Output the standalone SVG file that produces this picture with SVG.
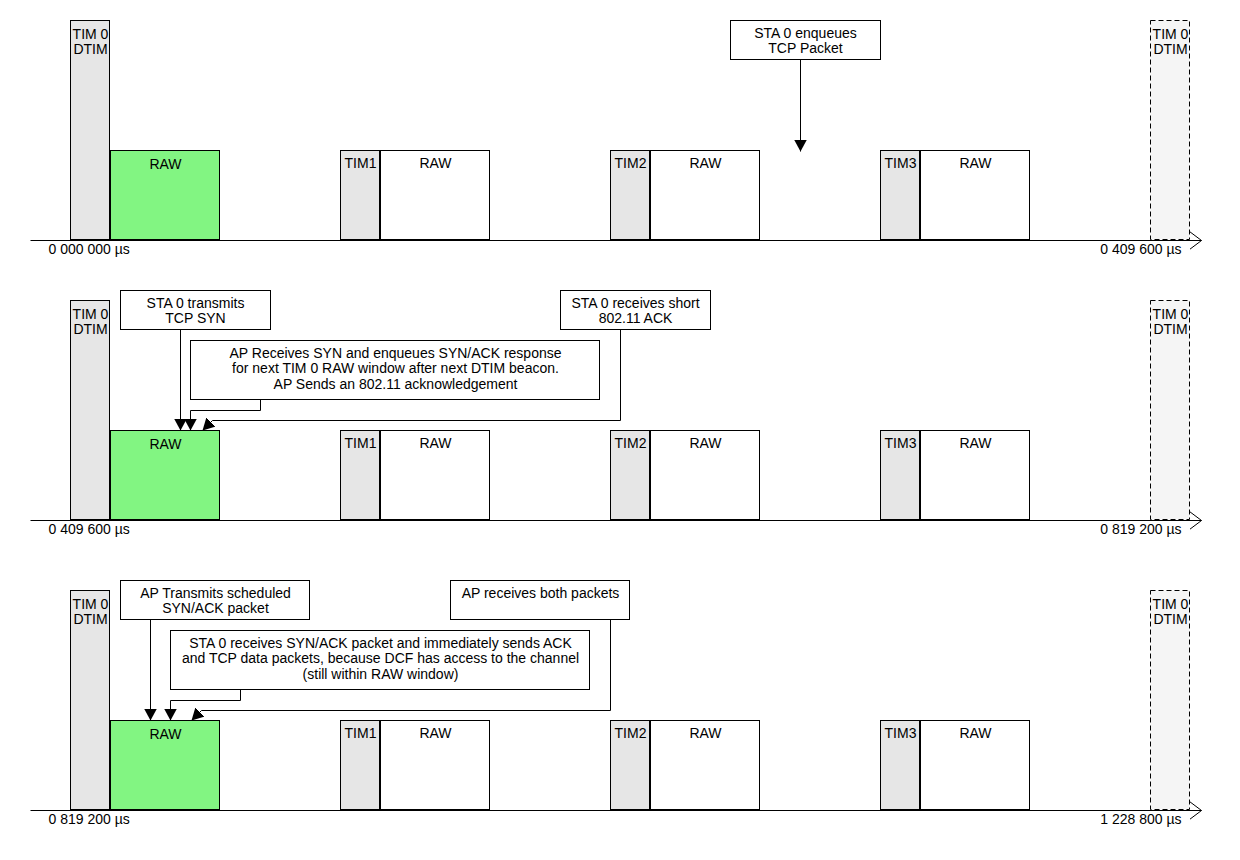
<svg xmlns="http://www.w3.org/2000/svg" width="1240" height="860" viewBox="0 0 1240 860">
<style>
  text { font-family: "Liberation Sans", Arial, sans-serif; font-size: 14px; fill: #000; }
  .c { text-anchor: middle; }
  .e { text-anchor: end; }
  .tim { fill: #e6e6e6; stroke: #000; stroke-width: 1; }
  .raw0 { fill: #82f582; stroke: #000; stroke-width: 1; }
  .raw { fill: #fff; stroke: #000; stroke-width: 1; }
  .ghost { fill: #f5f5f5; stroke: #000; stroke-width: 1; stroke-dasharray: 5 3; }
  .note { fill: #fff; stroke: #000; stroke-width: 1; }
  .axis { fill: none; stroke: #000; stroke-width: 1; marker-end: url(#open); }
  .link { fill: none; stroke: #000; stroke-width: 1; marker-end: url(#solid); }
</style>
<defs>
  <marker id="solid" markerUnits="userSpaceOnUse" viewBox="0 0 12 13" refX="12" refY="6.5" markerWidth="12" markerHeight="13" orient="auto">
    <path d="M0,0 L12,6.5 L0,13 z" fill="#000"/>
  </marker>
  <marker id="open" markerUnits="userSpaceOnUse" viewBox="0 0 14 20" refX="12" refY="10" markerWidth="14" markerHeight="20" orient="auto">
    <path d="M0,1 L12,10 L0,19" fill="none" stroke="#000" stroke-width="1"/>
  </marker>
</defs>
<rect width="1240" height="860" fill="#fff"/>
<g transform="translate(0.5,0.5)">

<!-- Row 1 -->
<g id="row1-axis">
  <path class="axis" d="M30,240 H1201"/>
  <text x="48" y="253">0 000 000 µs</text>
  <text class="e" x="1181" y="253">0 409 600 µs</text>
</g>
<g id="row1-tim0">
  <rect class="tim" x="70" y="20" width="39" height="219"/>
  <text class="c" x="90" y="38">TIM 0</text>
  <text class="c" x="90" y="53.5">DTIM</text>
</g>
<g id="row1-raw0">
  <rect class="raw0" x="110" y="150" width="109" height="89"/>
  <text class="c" x="165" y="168">RAW</text>
</g>
<g id="row1-tim1">
  <rect class="tim" x="340" y="150" width="39" height="89"/>
  <text class="c" x="360" y="167">TIM1</text>
</g>
<g id="row1-raw1">
  <rect class="raw" x="380" y="150" width="109" height="89"/>
  <text class="c" x="435" y="167">RAW</text>
</g>
<g id="row1-tim2">
  <rect class="tim" x="610" y="150" width="39" height="89"/>
  <text class="c" x="630" y="167">TIM2</text>
</g>
<g id="row1-raw2">
  <rect class="raw" x="650" y="150" width="109" height="89"/>
  <text class="c" x="705" y="167">RAW</text>
</g>
<g id="row1-tim3">
  <rect class="tim" x="880" y="150" width="39" height="89"/>
  <text class="c" x="900" y="167">TIM3</text>
</g>
<g id="row1-raw3">
  <rect class="raw" x="920" y="150" width="109" height="89"/>
  <text class="c" x="975" y="167">RAW</text>
</g>
<g id="row1-next-tim0">
  <rect class="ghost" x="1150" y="20" width="39" height="219"/>
  <text class="c" x="1170" y="38">TIM 0</text>
  <text class="c" x="1170" y="53.5">DTIM</text>
</g>
<g id="note-enqueue">
  <rect class="note" x="730" y="20" width="150" height="39"/>
  <text class="c" x="805" y="37">STA 0 enqueues</text>
  <text class="c" x="805" y="52.5">TCP Packet</text>
</g>

<!-- Row 2 -->
<g id="row2-axis">
  <path class="axis" d="M30,520 H1201"/>
  <text x="48" y="533">0 409 600 µs</text>
  <text class="e" x="1181" y="533">0 819 200 µs</text>
</g>
<g id="row2-tim0">
  <rect class="tim" x="70" y="300" width="39" height="219"/>
  <text class="c" x="90" y="318">TIM 0</text>
  <text class="c" x="90" y="333.5">DTIM</text>
</g>
<g id="row2-raw0">
  <rect class="raw0" x="110" y="430" width="109" height="89"/>
  <text class="c" x="165" y="448">RAW</text>
</g>
<g id="row2-tim1">
  <rect class="tim" x="340" y="430" width="39" height="89"/>
  <text class="c" x="360" y="447">TIM1</text>
</g>
<g id="row2-raw1">
  <rect class="raw" x="380" y="430" width="109" height="89"/>
  <text class="c" x="435" y="447">RAW</text>
</g>
<g id="row2-tim2">
  <rect class="tim" x="610" y="430" width="39" height="89"/>
  <text class="c" x="630" y="447">TIM2</text>
</g>
<g id="row2-raw2">
  <rect class="raw" x="650" y="430" width="109" height="89"/>
  <text class="c" x="705" y="447">RAW</text>
</g>
<g id="row2-tim3">
  <rect class="tim" x="880" y="430" width="39" height="89"/>
  <text class="c" x="900" y="447">TIM3</text>
</g>
<g id="row2-raw3">
  <rect class="raw" x="920" y="430" width="109" height="89"/>
  <text class="c" x="975" y="447">RAW</text>
</g>
<g id="row2-next-tim0">
  <rect class="ghost" x="1150" y="300" width="39" height="219"/>
  <text class="c" x="1170" y="318">TIM 0</text>
  <text class="c" x="1170" y="333.5">DTIM</text>
</g>
<g id="note-syn">
  <rect class="note" x="120" y="290" width="150" height="39"/>
  <text class="c" x="195" y="307">STA 0 transmits</text>
  <text class="c" x="195" y="322.5">TCP SYN</text>
</g>
<g id="note-short-ack">
  <rect class="note" x="560" y="290" width="150" height="39"/>
  <text class="c" x="635" y="307">STA 0 receives short</text>
  <text class="c" x="635" y="322.5">802.11 ACK</text>
</g>
<g id="note-ap-receives">
  <rect class="note" x="190" y="340" width="409" height="59"/>
  <text class="c" x="395" y="357">AP Receives SYN and enqueues SYN/ACK response</text>
  <text class="c" x="395" y="372.5">for next TIM 0 RAW window after next DTIM beacon.</text>
  <text class="c" x="395" y="388">AP Sends an 802.11 acknowledgement</text>
</g>

<!-- Row 3 -->
<g id="row3-axis">
  <path class="axis" d="M30,810 H1201"/>
  <text x="48" y="823">0 819 200 µs</text>
  <text class="e" x="1181" y="823">1 228 800 µs</text>
</g>
<g id="row3-tim0">
  <rect class="tim" x="70" y="590" width="39" height="219"/>
  <text class="c" x="90" y="608">TIM 0</text>
  <text class="c" x="90" y="623.5">DTIM</text>
</g>
<g id="row3-raw0">
  <rect class="raw0" x="110" y="720" width="109" height="89"/>
  <text class="c" x="165" y="738">RAW</text>
</g>
<g id="row3-tim1">
  <rect class="tim" x="340" y="720" width="39" height="89"/>
  <text class="c" x="360" y="737">TIM1</text>
</g>
<g id="row3-raw1">
  <rect class="raw" x="380" y="720" width="109" height="89"/>
  <text class="c" x="435" y="737">RAW</text>
</g>
<g id="row3-tim2">
  <rect class="tim" x="610" y="720" width="39" height="89"/>
  <text class="c" x="630" y="737">TIM2</text>
</g>
<g id="row3-raw2">
  <rect class="raw" x="650" y="720" width="109" height="89"/>
  <text class="c" x="705" y="737">RAW</text>
</g>
<g id="row3-tim3">
  <rect class="tim" x="880" y="720" width="39" height="89"/>
  <text class="c" x="900" y="737">TIM3</text>
</g>
<g id="row3-raw3">
  <rect class="raw" x="920" y="720" width="109" height="89"/>
  <text class="c" x="975" y="737">RAW</text>
</g>
<g id="row3-next-tim0">
  <rect class="ghost" x="1150" y="590" width="39" height="219"/>
  <text class="c" x="1170" y="608">TIM 0</text>
  <text class="c" x="1170" y="623.5">DTIM</text>
</g>
<g id="note-ap-transmits">
  <rect class="note" x="120" y="580" width="189" height="39"/>
  <text class="c" x="215" y="597">AP Transmits scheduled</text>
  <text class="c" x="215" y="612.5">SYN/ACK packet</text>
</g>
<g id="note-ap-both">
  <rect class="note" x="450" y="580" width="179" height="39"/>
  <text class="c" x="540" y="597">AP receives both packets</text>
</g>
<g id="note-sta-synack">
  <rect class="note" x="170" y="630" width="419" height="59"/>
  <text class="c" x="380" y="647">STA 0 receives SYN/ACK packet and immediately sends ACK</text>
  <text class="c" x="380" y="662.5">and TCP data packets, because DCF has access to the channel</text>
  <text class="c" x="380" y="678">(still within RAW window)</text>
</g>

<!-- Connectors -->
<g id="connectors">
  <path class="link" d="M800,59 V151"/>
  <path class="link" d="M180,329 V430"/>
  <path class="link" d="M260,399 V410 H190 V430"/>
  <path class="link" d="M620,329 V420 H212 L202,430"/>
  <path class="link" d="M150,619 V720"/>
  <path class="link" d="M240,689 V700 H170 V720"/>
  <path class="link" d="M610,619 V710 H201 L191,720"/>
</g>

</g>
</svg>
